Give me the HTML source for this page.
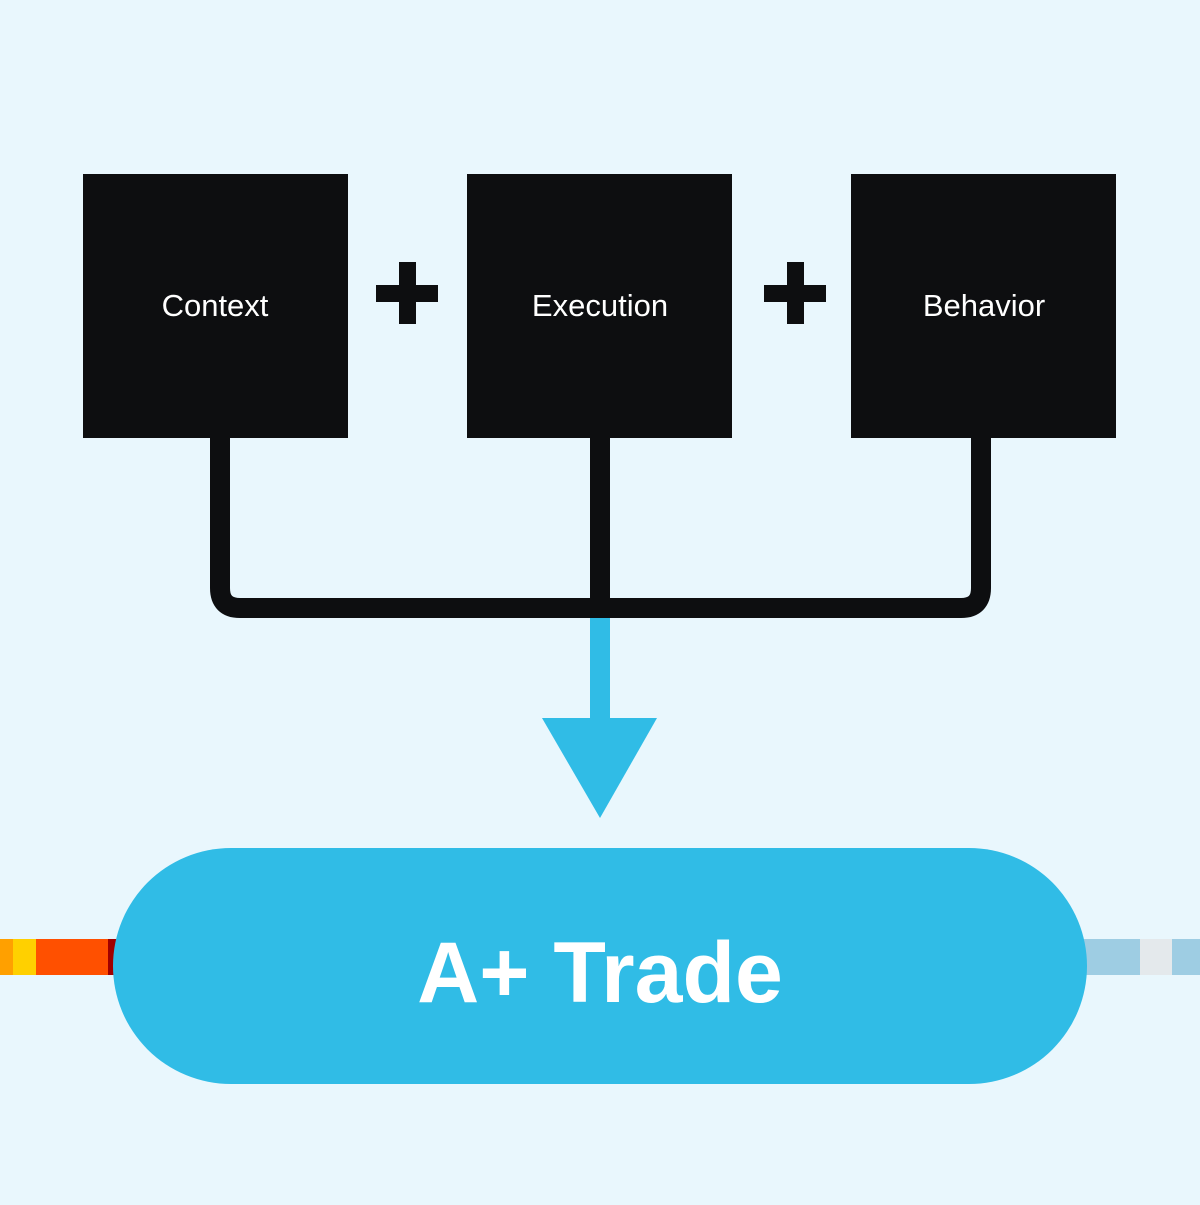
<!DOCTYPE html>
<html><head><style>
html,body{margin:0;padding:0;background:#E9F7FD;}
</style></head><body>
<svg width="1200" height="1200" viewBox="0 0 1200 1200" xmlns="http://www.w3.org/2000/svg">
<rect width="1200" height="1200" fill="#E9F7FD"/>
<rect x="0" y="939" width="13" height="36" fill="#FFA000"/>
<rect x="13" y="939" width="23" height="36" fill="#FFD000"/>
<rect x="36" y="939" width="72" height="36" fill="#FF5000"/>
<rect x="108" y="939" width="10" height="36" fill="#A00000"/>
<rect x="1080" y="939" width="60" height="36" fill="#9ECDE3"/>
<rect x="1140" y="939" width="32" height="36" fill="#E4E9EC"/>
<rect x="1172" y="939" width="28" height="36" fill="#9ECDE3"/>
<path d="M220 438 V588 Q220 608 240 608 H961 Q981 608 981 588 V438 M600 438 V608" fill="none" stroke="#0D0E10" stroke-width="20"/>
<rect x="590" y="618" width="20" height="104" fill="#30BCE6"/>
<polygon points="542,718 657,718 600,818" fill="#30BCE6"/>
<rect x="83" y="174" width="265" height="264" fill="#0D0E10"/>
<rect x="467" y="174" width="265" height="264" fill="#0D0E10"/>
<rect x="851" y="174" width="265" height="264" fill="#0D0E10"/>
<rect x="376" y="285" width="62" height="17" fill="#0D0E10"/>
<rect x="399" y="262" width="17" height="62" fill="#0D0E10"/>
<rect x="764" y="285" width="62" height="17" fill="#0D0E10"/>
<rect x="787" y="262" width="17" height="62" fill="#0D0E10"/>
<g font-family="Liberation Sans, sans-serif" fill="#fff" text-anchor="middle" font-size="31">
<text x="215" y="316">Context</text>
<text x="600" y="316">Execution</text>
<text x="984" y="316">Behavior</text>
</g>
<rect x="113" y="848" width="974" height="236" rx="118" fill="#30BCE6"/>
<text x="600" y="1002" font-family="Liberation Sans, sans-serif" font-weight="bold" font-size="86" fill="#fff" text-anchor="middle">A+ Trade</text>
</svg>
</body></html>
